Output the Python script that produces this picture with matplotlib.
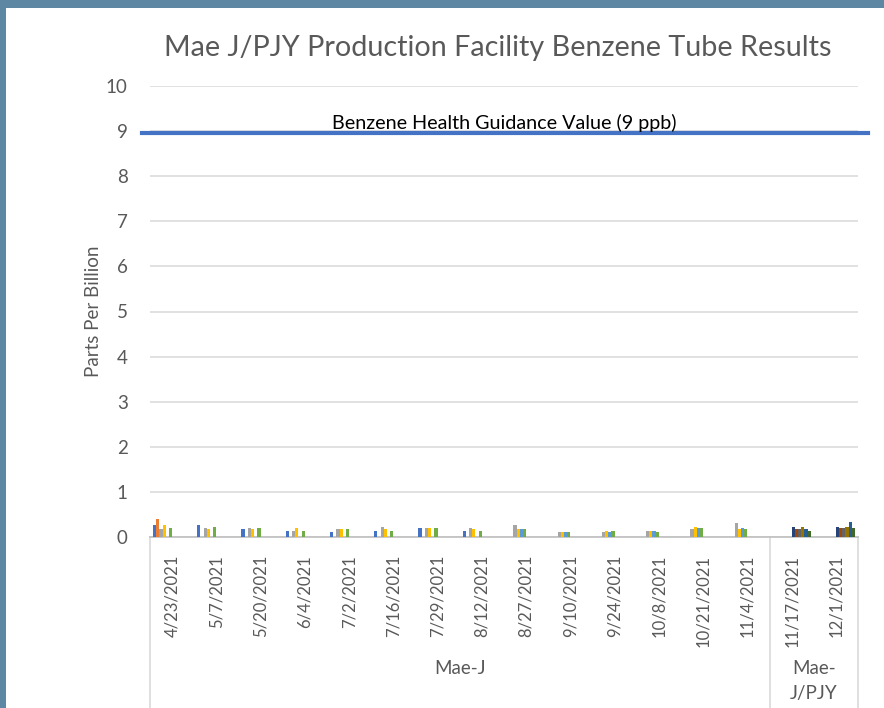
import numpy as np
import matplotlib
matplotlib.use("Agg")
import matplotlib.pyplot as plt
from matplotlib.patches import Rectangle

plt.rcParams['font.family'] = ['Lato', 'DejaVu Sans']

# sample dates (category axis) and their facility group
dates = ['4/23/2021', '5/7/2021', '5/20/2021', '6/4/2021', '7/2/2021', '7/16/2021',
         '7/29/2021', '8/12/2021', '8/27/2021', '9/10/2021', '9/24/2021', '10/8/2021',
         '10/21/2021', '11/4/2021', '11/17/2021', '12/1/2021']
groups = ['Mae-J', 'Mae-\nJ/PJY']
group_sizes = [14, 2]

nan = np.nan
# Mae-J tube results (ppb), one list per tube location
maej_1 = [0.27, 0.26, 0.17, 0.14, 0.11, 0.14, 0.20, 0.14, nan, nan, nan, nan, nan, nan, nan, nan]
maej_2 = [0.40, nan, nan, nan, nan, nan, nan, nan, nan, nan, nan, nan, nan, nan, nan, nan]
maej_3 = [0.17, 0.20, 0.20, 0.14, 0.17, 0.23, 0.20, 0.20, 0.26, 0.11, 0.11, 0.14, 0.17, 0.32, nan, nan]
maej_4 = [0.27, 0.17, 0.17, 0.20, 0.17, 0.17, 0.20, 0.17, 0.17, 0.11, 0.14, 0.14, 0.23, 0.17, nan, nan]
maej_5 = [nan, nan, nan, nan, nan, nan, nan, nan, 0.17, 0.11, 0.11, 0.14, 0.20, 0.20, nan, nan]
maej_6 = [0.21, 0.22, 0.20, 0.14, 0.17, 0.14, 0.20, 0.14, 0.17, 0.11, 0.14, 0.11, 0.20, 0.17, nan, nan]
# Mae-J/PJY tube results (ppb)
pjy_1 = [nan] * 14 + [0.23, 0.23]
pjy_2 = [nan] * 14 + [0.17, 0.20]
pjy_3 = [nan] * 14 + [0.17, 0.20]
pjy_4 = [nan] * 14 + [0.23, 0.23]
pjy_5 = [nan] * 14 + [0.17, 0.34]
pjy_6 = [nan] * 14 + [0.14, 0.20]

guidance_value = 9
guidance_label = 'Benzene Health Guidance Value (9 ppb)'

series = [maej_1, maej_2, maej_3, maej_4, maej_5, maej_6,
          pjy_1, pjy_2, pjy_3, pjy_4, pjy_5, pjy_6]
colors = ['#4472C4', '#ED7D31', '#A5A5A5', '#FFC000', '#5B9BD5', '#70AD47',
          '#264478', '#9E480E', '#636363', '#997300', '#255E91', '#43682B']

text_color = '#595959'

fig = plt.figure(figsize=(8.84, 7.08), dpi=100)
fig.patch.set_facecolor('white')

# window frame around the chart (screenshot border)
fig.patches.append(Rectangle((0, 1 - 8 / 708), 1, 8 / 708, transform=fig.transFigure,
                             facecolor='#5E87A4', edgecolor='none', zorder=0))
fig.patches.append(Rectangle((0, 0), 6 / 884, 1, transform=fig.transFigure,
                             facecolor='#5E87A4', edgecolor='none', zorder=0))

ax = fig.add_axes([150 / 884, 1 - 537 / 708, 708 / 884, 451 / 708])

x = np.arange(len(dates))
w = 1 / 13.8
for i, (vals, c) in enumerate(zip(series, colors)):
    ax.bar(x + (i - 5.5) * w, vals, width=w, color=c, zorder=3)

ax.set_xlim(-0.5, len(dates) - 0.5)
ax.set_ylim(0, 10)
ax.set_yticks(range(0, 11))
ax.yaxis.grid(True, color='#D9D9D9', linewidth=1.1)
ax.set_axisbelow(True)
for s in ['left', 'right', 'top']:
    ax.spines[s].set_visible(False)
ax.spines['bottom'].set_color('#BFBFBF')
ax.spines['bottom'].set_linewidth(1.2)
ax.tick_params(axis='y', length=0, pad=16, labelsize=13.5, labelcolor=text_color)
ax.set_xticks(x)
ax.set_xticklabels(dates, rotation=90)
ax.tick_params(axis='x', length=0, pad=13, labelsize=12, labelcolor=text_color)
ax.set_ylabel('Parts Per Billion', fontsize=13.5, color=text_color, labelpad=3)

# guidance line
trans = ax.get_yaxis_transform()
ax.plot([-0.011, 1.014], [guidance_value - 0.04, guidance_value - 0.04], color='#4472C4',
        linewidth=3, transform=trans, clip_on=False, zorder=4)
ax.text(0.500, guidance_value + 0.18, guidance_label, transform=trans, ha='center',
        va='center', fontsize=14.2, color='black', zorder=5)

# multi-level category axis: group boxes and labels
xt = ax.get_xaxis_transform()
bottom = -171 / 451
edges = np.cumsum([0] + group_sizes) - 0.5
for e in edges:
    ax.plot([e, e], [0, bottom], color='#D9D9D9', linewidth=1.2, transform=xt, clip_on=False)
for gi, g in enumerate(groups):
    cx = (edges[gi] + edges[gi + 1]) / 2
    ax.text(cx, -144 / 451 if '\n' in g else -131 / 451, g, transform=xt, ha='center',
            va='center', fontsize=13.5, color=text_color, linespacing=1.5)

fig.text(498 / 884, 1 - 48 / 708, 'Mae J/PJY Production Facility Benzene Tube Results',
         ha='center', va='center', fontsize=20.7, color=text_color)

fig.savefig('out.png', dpi=100)
